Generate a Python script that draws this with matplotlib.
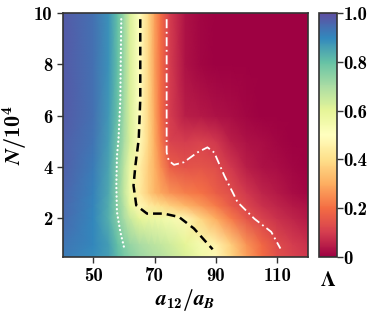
import numpy as np
import matplotlib
matplotlib.use("Agg")
import matplotlib.pyplot as plt
from matplotlib.ticker import FixedLocator, FixedFormatter

plt.rcParams['font.family'] = ['cmb10', 'DejaVu Serif']
plt.rcParams['axes.unicode_minus'] = False
plt.rcParams['mathtext.fontset'] = 'custom'
plt.rcParams['mathtext.rm'] = 'cmb10'
plt.rcParams['mathtext.bf'] = 'cmb10'
plt.rcParams['mathtext.it'] = 'STIXGeneral:italic:bold'

# grid of Lambda values
a12 = [40, 50, 55, 58, 60, 62, 65, 68, 70, 72, 75, 80, 85, 90, 95, 100, 105, 110, 115, 120]
n_vals = [0.5, 1, 2, 2.5, 3, 4, 5, 6, 8, 10]
lam = [
    [0.92, 0.89, 0.86, 0.81, 0.78, 0.75, 0.72, 0.70, 0.69, 0.68, 0.66, 0.62, 0.56, 0.48, 0.38, 0.28, 0.20, 0.14, 0.11, 0.09],
    [0.93, 0.90, 0.86, 0.80, 0.76, 0.73, 0.70, 0.68, 0.67, 0.66, 0.64, 0.60, 0.54, 0.46, 0.36, 0.26, 0.19, 0.13, 0.10, 0.08],
    [0.95, 0.90, 0.83, 0.75, 0.70, 0.65, 0.60, 0.58, 0.57, 0.56, 0.54, 0.48, 0.38, 0.30, 0.22, 0.15, 0.11, 0.08, 0.06, 0.04],
    [0.955, 0.905, 0.835, 0.745, 0.68, 0.59, 0.48, 0.44, 0.42, 0.40, 0.37, 0.32, 0.27, 0.22, 0.16, 0.12, 0.08, 0.06, 0.04, 0.03],
    [0.96, 0.91, 0.84, 0.74, 0.66, 0.56, 0.44, 0.36, 0.32, 0.29, 0.26, 0.23, 0.21, 0.17, 0.135, 0.09, 0.06, 0.04, 0.02, 0.01],
    [0.97, 0.92, 0.85, 0.75, 0.67, 0.57, 0.45, 0.36, 0.31, 0.25, 0.17, 0.145, 0.15, 0.135, 0.09, 0.05, 0.03, 0.02, 0.01, 0.0],
    [0.97, 0.93, 0.86, 0.77, 0.70, 0.62, 0.49, 0.38, 0.30, 0.22, 0.11, 0.10, 0.11, 0.09, 0.05, 0.03, 0.02, 0.01, 0.0, 0.0],
    [0.98, 0.94, 0.87, 0.79, 0.71, 0.62, 0.50, 0.38, 0.29, 0.20, 0.10, 0.05, 0.04, 0.03, 0.02, 0.01, 0.0, 0.0, 0.0, 0.0],
    [0.98, 0.94, 0.88, 0.80, 0.72, 0.62, 0.50, 0.38, 0.28, 0.20, 0.10, 0.03, 0.01, 0.0, 0.0, 0.0, 0.0, 0.0, 0.0, 0.0],
    [0.98, 0.94, 0.88, 0.80, 0.72, 0.62, 0.50, 0.38, 0.28, 0.20, 0.10, 0.03, 0.01, 0.0, 0.0, 0.0, 0.0, 0.0, 0.0, 0.0],
]

# boundary lines
dot_x = [59.1, 58.8, 58.2, 57.7, 57.5, 57.7, 58.8, 60.1]
dot_y = [9.76, 6.63, 5.09, 4.44, 3.28, 2.25, 1.48, 0.83]
dash_x = [65.3, 65.3, 64.8, 63.7, 63.1, 64.0, 67.5, 73.0, 77.9, 82.8, 86.7, 88.9]
dash_y = [9.76, 6.63, 5.09, 4.05, 3.28, 2.51, 2.19, 2.19, 2.06, 1.61, 1.09, 0.80]
dd_x = [73.9, 73.9, 73.9, 74.6, 76.3, 79.5, 83.9, 87.2, 89.4, 92.7, 97.0, 102.5, 108.0, 111.0]
dd_y = [9.76, 6.63, 4.57, 4.25, 4.09, 4.19, 4.57, 4.77, 4.57, 3.67, 2.64, 1.99, 1.48, 0.83]

fig = plt.figure(figsize=(3.74, 3.14), dpi=100)
ax = fig.add_axes([0.1676, 0.1815, 0.656, 0.777])
cax = fig.add_axes([0.8537, 0.1815, 0.0465, 0.777])

X, Y = np.meshgrid(a12, n_vals)
mesh = ax.pcolormesh(X, Y, np.array(lam), cmap='Spectral', vmin=0, vmax=1,
                     shading='gouraud', rasterized=True)

ax.plot(dot_x, dot_y, color='white', ls=(0, (0.1, 1.8)), lw=1.6, dash_capstyle='round')
ax.plot(dash_x, dash_y, color='black', ls=(0, (3.5, 2)), lw=1.8)
ax.plot(dd_x, dd_y, color='white', ls=(0, (5, 2, 1, 2)), lw=1.3)

ax.set_xlim(40, 120)
ax.set_ylim(0.5, 10)
ax.set_xticks([50, 70, 90, 110])
ax.set_yticks([2, 4, 6, 8, 10])
ax.tick_params(labelsize=13.5, length=4, width=1, color='#333333')
ax.set_xlabel(r'$a_{12}/a_B$', fontsize=15.5, labelpad=1)
ax.set_ylabel(r'$N/10^4$', fontsize=16, labelpad=3)
for s in ax.spines.values():
    s.set_color('#333333')
    s.set_linewidth(1.2)

cb = fig.colorbar(mesh, cax=cax)
cb.outline.set_edgecolor('#333333')
cb.outline.set_linewidth(1.2)
cb.ax.yaxis.set_major_locator(FixedLocator([0, 0.2, 0.4, 0.6, 0.8, 1.0]))
cb.ax.yaxis.set_major_formatter(FixedFormatter(['0', '0.2', '0.4', '0.6', '0.8', '1.0']))
cb.ax.tick_params(labelsize=13.5, length=4, width=1, color='#333333', pad=1)
cax.text(0.5, -0.06, '\u039b', transform=cax.transAxes, ha='center', va='top',
         fontsize=15, family='STIXGeneral', weight='bold')

fig.savefig('out.png', dpi=100)
